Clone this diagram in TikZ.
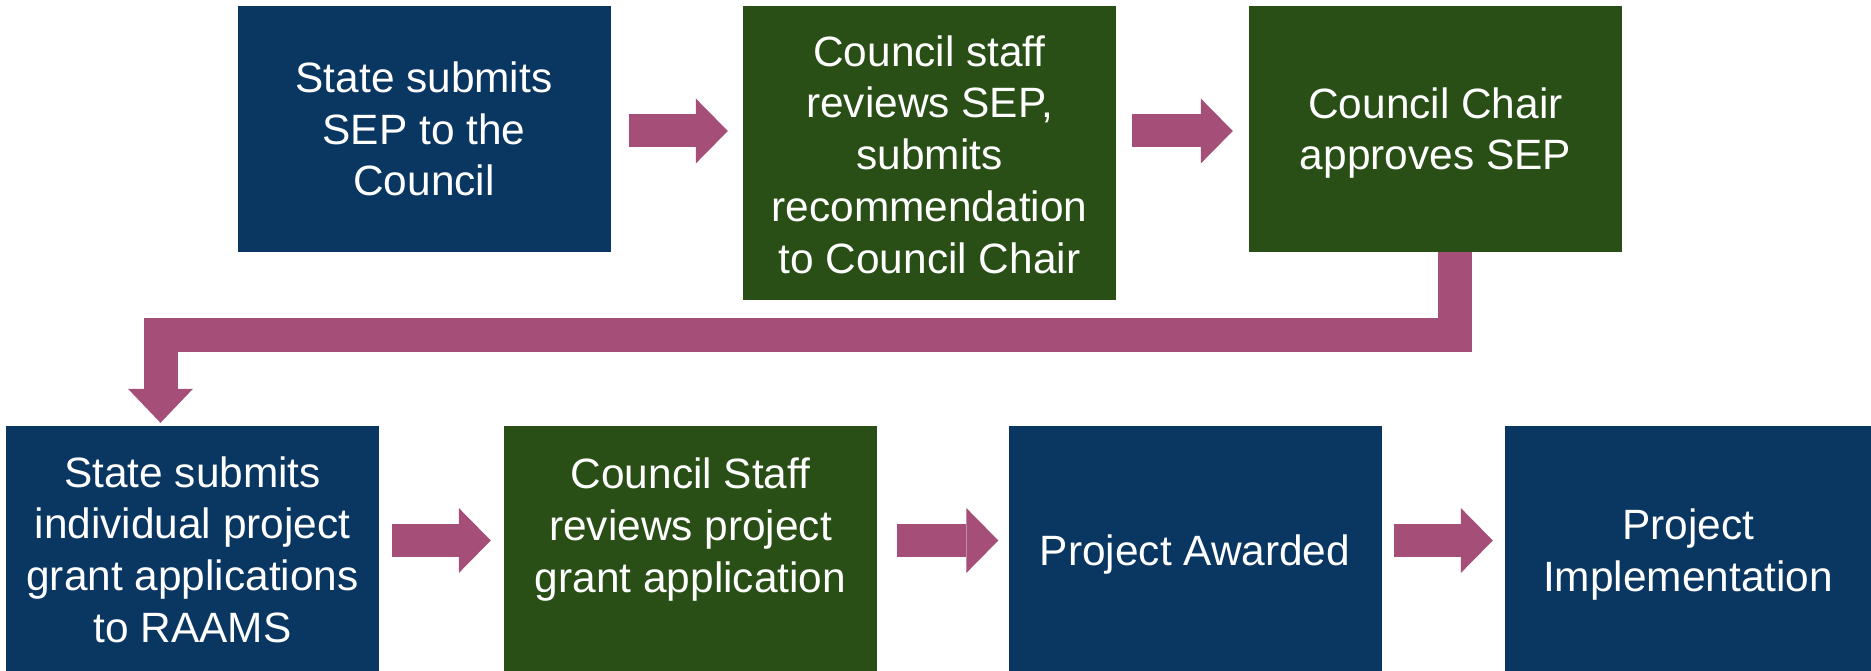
\documentclass[tikz,border=0pt]{standalone}
\usepackage{fontspec}
\setmainfont{Liberation Sans}
\usetikzlibrary{arrows.meta,calc}
\definecolor{boxblue}{HTML}{0A3662}
\definecolor{boxgreen}{HTML}{294F16}
\definecolor{arrowpink}{HTML}{A54E77}
\begin{document}
\begin{tikzpicture}[x=1pt,y=-1pt,
  stepbox/.style={inner sep=0pt, minimum width=373pt, minimum height=246pt},
  bluebox/.style={stepbox, fill=boxblue},
  greenbox/.style={stepbox, fill=boxgreen},
  boxtext/.style={inner sep=0pt, text=white, align=center,
    font=\fontsize{42.4}{51.7}\selectfont},
  fatarrow/.style={draw=arrowpink, line width=33pt, line join=miter,
    -{Triangle[length=32pt,width=65pt,line width=0pt]}}]
\useasboundingbox (0,0) rectangle (1871,671);
% top row
\node[bluebox] (b1) at (424,129) {};
\node[boxtext] (t1) at (b1.center) {State submits\\SEP to the\\Council};
\node[greenbox, minimum height=294pt] (b2) at (929.5,153) {};
\node[boxtext] (t2) at ($(b2.center)+(0,1.5)$) {Council staff\\reviews SEP,\\submits\\recommendation\\to Council Chair};
\node[greenbox] (b3) at (1435.5,129) {};
\node[boxtext] (t3) at ($(b3.center)+(0,4)$) {Council Chair\\approves SEP};
% bottom row
\node[bluebox, minimum height=245pt] (b4) at (192.5,548.5) {};
\node[boxtext] (t4) at ($(b4.center)+(0,1)$) {State submits\\individual project\\grant applications\\to RAAMS};
\node[greenbox, minimum height=245pt] (b5) at (690.5,548.5) {};
\node[boxtext] (t5) at ($(b5.center)+(0,-19)$) {Council Staff\\reviews project\\grant application};
\node[bluebox, minimum height=245pt] (b6) at (1195,548.5) {};
\node[boxtext] (t6) at ($(b6.center)+(0,6)$) {Project Awarded};
\node[bluebox, minimum height=245pt, minimum width=366pt] (b7) at (1688,548.5) {};
\node[boxtext] (t7) at ($(b7.center)+(0,6)$) {Project\\Implementation};
% connectors
\draw[fatarrow] ($(b1.east)+(18,2)$) -- ($(b1.east -| b2.west)+(-15,2)$);
\draw[fatarrow] ($(b2.east |- b3.west)+(16,2)$) -- ($(b3.west)+(-16,2)$);
\draw[fatarrow, line width=34pt, -{Triangle[length=34pt,width=65pt,line width=0pt]}]
  ($(b3.south)+(19,0)$) |- ($(b4.north)+(-32,-91)$) -- ($(b4.north)+(-32,-3)$);
\draw[fatarrow] ($(b4.east)+(13,-8)$) -- ($(b5.west)+(-13,-8)$);
\draw[fatarrow] ($(b5.east)+(20,-8)$) -- ($(b6.west)+(-10,-8)$);
\draw[fatarrow] ($(b6.east)+(12,-8)$) -- ($(b7.west)+(-12,-8)$);
\end{tikzpicture}
\end{document}
